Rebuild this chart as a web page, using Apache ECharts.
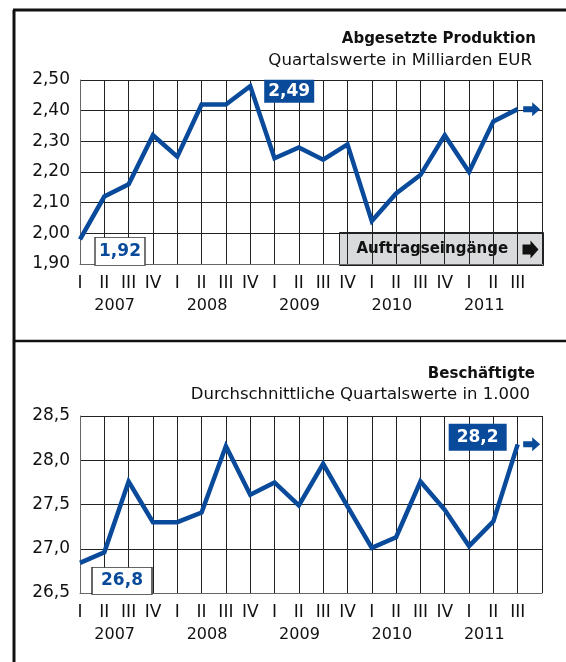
<!DOCTYPE html>
<html lang="de">

<head>
    <meta charset="UTF-8">
    <title>Abgesetzte Produktion / Beschäftigte</title>
    <style>
        html, body { margin: 0; padding: 0; background: #fff; }
        #chart { width: 566px; height: 662px; }
    </style>
</head>

<body>
    <div id="chart"></div>

    <script src="https://cdn.jsdelivr.net/npm/echarts@6/dist/echarts.min.js"></script>
    <script>
        // quarters 2007 I .. 2011 III, plus one empty slot for the right edge
        const quarters = ['I', 'II', 'III', 'IV', 'I', 'II', 'III', 'IV', 'I', 'II', 'III', 'IV',
            'I', 'II', 'III', 'IV', 'I', 'II', 'III', '']
        const years = ['', '2007', '', '', '', '2008', '', '', '', '2009', '', '', '', '2010', '', '', '', '2011', '', '']

        // Abgesetzte Produktion, Mrd. EUR
        const production = [1.98, 2.12, 2.16, 2.32, 2.25, 2.42, 2.42, 2.48, 2.245, 2.28,
            2.24, 2.29, 2.04, 2.13, 2.19, 2.32, 2.20, 2.365, 2.405]
        // Beschäftigte, in 1.000
        const employment = [26.84, 26.96, 27.76, 27.30, 27.30, 27.41, 28.16, 27.61, 27.75, 27.49,
            27.96, 27.48, 27.01, 27.13, 27.76, 27.44, 27.03, 27.31, 28.18]

        const prodTicks = { min: 1.9, max: 2.5, step: 0.1 }
        const empTicks = { min: 26.5, max: 28.5, step: 0.5 }

        const prodLabels = { high: '2,49', low: '1,92' }
        const empLabels = { high: '28,2', low: '26,8' }

        const blue = '#0a4a9b'
        const font = 'DejaVu Sans'
        const last = production.length - 1

        const arrowPath = 'path://M0,4 L9,4 L9,0 L17,7 L9,14 L9,10 L0,10 Z'

        function xAxes(gridIndex) {
            return [{
                gridIndex: gridIndex,
                type: 'category',
                data: quarters,
                boundaryGap: false,
                axisLine: { show: true, lineStyle: { color: '#666', width: 1 } },
                axisTick: { show: false },
                axisLabel: { interval: 0, margin: 11, color: '#111', fontSize: 17, fontFamily: font },
                splitLine: { show: true, interval: 0, lineStyle: { color: '#222', width: 1 } }
            }, {
                gridIndex: gridIndex,
                type: 'category',
                data: years,
                boundaryGap: true,
                position: 'bottom',
                offset: 22,
                axisLine: { show: false },
                axisTick: { show: false },
                axisLabel: { interval: 0, margin: 12, color: '#111', fontSize: 16, fontFamily: font },
                splitLine: { show: false }
            }]
        }

        function yAxis(gridIndex, t, digits) {
            return {
                gridIndex: gridIndex,
                type: 'value',
                min: t.min,
                max: t.max,
                interval: t.step,
                axisLine: { show: true, lineStyle: { color: '#666' } },
                axisTick: { show: false },
                axisLabel: {
                    margin: 10, color: '#111', fontSize: 17, fontFamily: font,
                    formatter: v => v.toFixed(digits).replace('.', ',')
                },
                splitLine: { show: true, lineStyle: { color: '#222', width: 1 } }
            }
        }

        function boxLabel(coord, text, filled, size, offset) {
            return {
                coord: coord,
                symbol: 'rect',
                symbolSize: size,
                symbolOffset: offset,
                itemStyle: filled
                    ? { color: blue, borderWidth: 0 }
                    : { color: '#fff', borderColor: '#333', borderWidth: 1 },
                label: {
                    show: true, position: 'inside', formatter: text,
                    color: filled ? '#fff' : blue, fontSize: 17, fontWeight: 'bold', fontFamily: font
                }
            }
        }

        function arrowMark(coord) {
            return {
                coord: coord,
                symbol: arrowPath,
                symbolSize: [17, 14],
                symbolOffset: [14, 0],
                itemStyle: { color: blue },
                label: { show: false }
            }
        }

        const chart = echarts.init(document.getElementById('chart'))

        const option = {
            animation: false,
            textStyle: { fontFamily: font },
            title: [
                { text: 'Abgesetzte Produktion', right: 25, top: 27, textStyle: { fontSize: 15, fontWeight: 'bold', color: '#111', fontFamily: font } },
                { text: 'Quartalswerte in Milliarden EUR', right: 29, top: 47, textStyle: { fontSize: 16.6, fontWeight: 'normal', color: '#111', fontFamily: font } },
                { text: 'Beschäftigte', right: 26, top: 362, textStyle: { fontSize: 15, fontWeight: 'bold', color: '#111', fontFamily: font } },
                { text: 'Durchschnittliche Quartalswerte in 1.000', right: 31, top: 381, textStyle: { fontSize: 16.5, fontWeight: 'normal', color: '#111', fontFamily: font } }
            ],
            grid: [
                { left: 80, right: 24, top: 80, height: 184 },
                { left: 80, right: 24, top: 416, height: 177 }
            ],
            xAxis: [...xAxes(0), ...xAxes(1)],
            yAxis: [yAxis(0, prodTicks, 2), yAxis(1, empTicks, 1)],
            series: [{
                name: 'Abgesetzte Produktion',
                type: 'line',
                xAxisIndex: 0,
                yAxisIndex: 0,
                data: production,
                symbol: 'none',
                lineStyle: { color: blue, width: 4.5, join: 'miter' },
                z: 5,
                markPoint: {
                    silent: true,
                    data: [
                        boxLabel([7, production[7]], prodLabels.high, true, [50, 23], [39, 5]),
                        boxLabel([0, production[0]], prodLabels.low, false, [50, 28], [40, 12]),
                        arrowMark([last, production[last]])
                    ]
                }
            }, {
                name: 'Beschäftigte',
                type: 'line',
                xAxisIndex: 2,
                yAxisIndex: 1,
                data: employment,
                symbol: 'none',
                lineStyle: { color: blue, width: 4.5, join: 'miter' },
                z: 5,
                markPoint: {
                    silent: true,
                    data: [
                        boxLabel([last, employment[last]], empLabels.high, true, [58, 27], [-40, -7]),
                        boxLabel([0, employment[0]], empLabels.low, false, [60, 27], [42, 18]),
                        arrowMark([last, employment[last]])
                    ]
                }
            }],
            graphic: [
                // outer frame and separator
                { type: 'line', shape: { x1: 14, y1: 10, x2: 14, y2: 662 }, style: { stroke: '#111', lineWidth: 3 } },
                { type: 'line', shape: { x1: 13, y1: 10, x2: 566, y2: 10 }, style: { stroke: '#111', lineWidth: 3 } },
                { type: 'line', shape: { x1: 14, y1: 341, x2: 566, y2: 341 }, style: { stroke: '#111', lineWidth: 2.5 } },
                // Auftragseingänge button
                {
                    type: 'group', left: 339, top: 232, z: 10,
                    children: [
                        { type: 'rect', shape: { x: 0, y: 0, width: 204, height: 33 }, style: { fill: '#d9dadb', stroke: '#222', lineWidth: 1 } },
                        { type: 'text', style: { x: 17, y: 17, text: 'Auftragseingänge', verticalAlign: 'middle', fontSize: 15, fontWeight: 'bold', fontFamily: font, fill: '#111' } },
                        { type: 'polygon', shape: { points: [[183, 12], [191, 12], [191, 8], [199, 17], [191, 26], [191, 22], [183, 22]] }, style: { fill: '#111' } }
                    ]
                }
            ]
        }

        chart.setOption(option)
    </script>
</body>

</html>
